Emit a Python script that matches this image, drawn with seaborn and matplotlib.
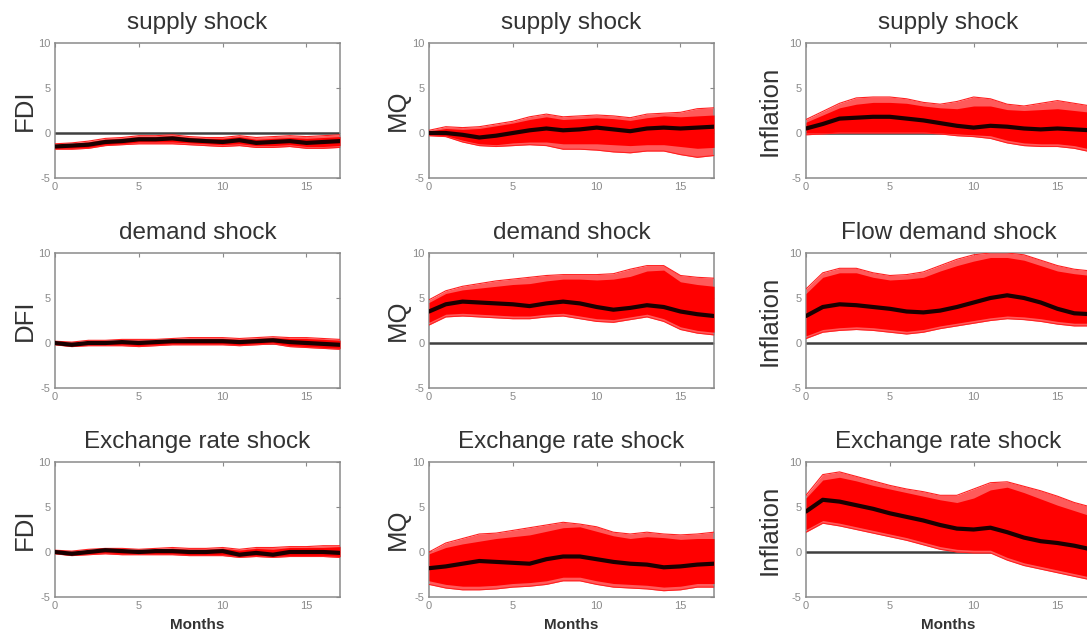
import matplotlib
matplotlib.use("Agg")
import matplotlib.pyplot as plt
import seaborn as sns

months = list(range(18))

# Row 1: supply shock
fdi_s_med = [-1.5,-1.4,-1.3,-1.0,-0.9,-0.7,-0.7,-0.6,-0.8,-0.9,-1.0,-0.8,-1.1,-1.0,-0.9,-1.1,-1.0,-0.9]
fdi_s_lo  = [-1.7,-1.7,-1.6,-1.3,-1.2,-1.0,-1.0,-1.0,-1.1,-1.2,-1.3,-1.2,-1.4,-1.4,-1.3,-1.5,-1.5,-1.4]
fdi_s_hi  = [-1.3,-1.2,-1.0,-0.7,-0.6,-0.4,-0.4,-0.3,-0.5,-0.6,-0.6,-0.4,-0.7,-0.6,-0.5,-0.6,-0.5,-0.4]
fdi_s_olo = [-1.8,-1.8,-1.7,-1.4,-1.3,-1.2,-1.2,-1.2,-1.3,-1.4,-1.5,-1.4,-1.6,-1.6,-1.5,-1.7,-1.7,-1.6]
fdi_s_ohi = [-1.2,-1.1,-0.9,-0.6,-0.5,-0.3,-0.3,-0.2,-0.4,-0.5,-0.5,-0.3,-0.5,-0.4,-0.3,-0.4,-0.3,-0.2]

mq_s_med = [0.0,0.0,-0.2,-0.5,-0.3,0.0,0.3,0.5,0.3,0.4,0.6,0.4,0.2,0.5,0.6,0.5,0.6,0.7]
mq_s_lo  = [-0.2,-0.3,-0.8,-1.2,-1.3,-1.1,-1.0,-1.0,-1.2,-1.2,-1.2,-1.3,-1.4,-1.3,-1.3,-1.5,-1.7,-1.6]
mq_s_hi  = [0.2,0.5,0.4,0.5,0.8,1.1,1.5,1.8,1.5,1.6,1.7,1.6,1.4,1.7,1.9,1.8,1.9,2.0]
mq_s_olo = [-0.3,-0.4,-1.0,-1.4,-1.5,-1.4,-1.3,-1.4,-1.8,-1.8,-1.9,-2.1,-2.2,-2.0,-2.0,-2.4,-2.7,-2.5]
mq_s_ohi = [0.3,0.7,0.6,0.7,1.0,1.3,1.8,2.1,1.8,1.9,2.0,1.9,1.7,2.1,2.2,2.3,2.7,2.8]

inf_s_med = [0.5,1.0,1.6,1.7,1.8,1.8,1.6,1.4,1.1,0.8,0.6,0.8,0.7,0.5,0.4,0.5,0.4,0.3]
inf_s_lo  = [0.0,0.0,0.1,0.1,0.1,0.1,0.1,0.1,0.0,-0.1,-0.2,-0.3,-0.8,-1.1,-1.2,-1.2,-1.4,-1.8]
inf_s_hi  = [1.2,2.0,2.8,3.2,3.4,3.4,3.3,3.0,2.8,2.7,3.0,3.0,2.6,2.5,2.6,2.7,2.5,2.3]
inf_s_olo = [-0.2,-0.1,0.0,0.0,0.0,0.0,0.0,0.0,-0.1,-0.3,-0.4,-0.6,-1.1,-1.4,-1.5,-1.5,-1.7,-2.1]
inf_s_ohi = [1.5,2.4,3.3,3.9,4.0,4.0,3.8,3.4,3.2,3.5,4.0,3.8,3.2,3.0,3.3,3.6,3.3,3.0]

# Row 2: demand shock
dfi_d_med = [0.0,-0.2,0.0,0.0,0.1,0.0,0.1,0.2,0.2,0.2,0.2,0.1,0.2,0.3,0.1,0.0,-0.1,-0.2]
dfi_d_lo  = [-0.1,-0.3,-0.2,-0.2,-0.2,-0.3,-0.2,-0.1,-0.1,-0.1,-0.1,-0.2,-0.1,0.0,-0.3,-0.4,-0.5,-0.6]
dfi_d_hi  = [0.1,0.0,0.2,0.2,0.3,0.3,0.3,0.4,0.4,0.5,0.5,0.4,0.5,0.6,0.5,0.5,0.4,0.3]
dfi_d_olo = [-0.2,-0.4,-0.3,-0.3,-0.3,-0.4,-0.3,-0.2,-0.2,-0.2,-0.2,-0.3,-0.2,-0.1,-0.4,-0.5,-0.6,-0.7]
dfi_d_ohi = [0.2,0.1,0.3,0.3,0.4,0.4,0.4,0.5,0.6,0.6,0.6,0.5,0.6,0.7,0.6,0.6,0.5,0.4]

mq_d_med = [3.5,4.3,4.6,4.5,4.4,4.3,4.1,4.4,4.6,4.4,4.0,3.7,3.9,4.2,4.0,3.5,3.2,3.0]
mq_d_lo  = [2.3,3.2,3.3,3.2,3.1,3.0,3.0,3.2,3.3,3.0,2.7,2.6,2.9,3.2,2.7,1.8,1.4,1.2]
mq_d_hi  = [4.5,5.5,5.9,6.1,6.3,6.5,6.6,6.9,7.1,7.1,7.0,7.1,7.4,8.0,8.1,6.8,6.5,6.3]
mq_d_olo = [2.0,2.9,3.0,2.9,2.8,2.7,2.7,2.9,3.0,2.7,2.4,2.3,2.6,2.9,2.4,1.5,1.1,0.9]
mq_d_ohi = [4.8,5.8,6.3,6.6,6.9,7.1,7.3,7.5,7.6,7.6,7.6,7.7,8.2,8.6,8.6,7.5,7.3,7.2]

inf_d_med = [3.0,4.0,4.3,4.2,4.0,3.8,3.5,3.4,3.6,4.0,4.5,5.0,5.3,5.0,4.5,3.8,3.3,3.2]
inf_d_lo  = [0.8,1.5,1.7,1.8,1.7,1.5,1.3,1.5,1.9,2.2,2.5,2.8,3.0,2.9,2.7,2.4,2.2,2.2]
inf_d_hi  = [5.5,7.3,7.8,7.8,7.3,7.0,7.1,7.3,8.0,8.6,9.1,9.5,9.5,9.2,8.6,8.0,7.7,7.5]
inf_d_olo = [0.5,1.2,1.4,1.5,1.4,1.2,1.0,1.2,1.6,1.9,2.2,2.5,2.7,2.6,2.4,2.1,1.9,1.9]
inf_d_ohi = [6.0,7.8,8.3,8.3,7.8,7.5,7.6,7.9,8.6,9.3,9.8,10.0,10.0,9.8,9.2,8.6,8.2,8.0]

# Row 3: exchange rate shock
fdi_e_med = [0.0,-0.2,0.0,0.2,0.1,0.0,0.1,0.1,0.0,0.0,0.1,-0.3,-0.1,-0.3,0.0,0.0,0.0,-0.1]
fdi_e_lo  = [-0.1,-0.3,-0.2,-0.1,-0.2,-0.2,-0.2,-0.2,-0.3,-0.3,-0.3,-0.5,-0.4,-0.5,-0.4,-0.4,-0.4,-0.5]
fdi_e_hi  = [0.1,0.0,0.2,0.3,0.3,0.2,0.3,0.4,0.3,0.3,0.4,0.2,0.4,0.3,0.5,0.5,0.5,0.6]
fdi_e_olo = [-0.2,-0.4,-0.3,-0.2,-0.3,-0.3,-0.3,-0.3,-0.4,-0.4,-0.4,-0.6,-0.5,-0.6,-0.5,-0.5,-0.5,-0.6]
fdi_e_ohi = [0.2,0.1,0.3,0.4,0.4,0.3,0.4,0.5,0.4,0.4,0.5,0.3,0.5,0.5,0.6,0.6,0.7,0.7]

mq_e_med = [-1.8,-1.6,-1.3,-1.0,-1.1,-1.2,-1.3,-0.8,-0.5,-0.5,-0.8,-1.1,-1.3,-1.4,-1.7,-1.6,-1.4,-1.3]
mq_e_lo  = [-3.2,-3.6,-3.8,-3.8,-3.7,-3.5,-3.4,-3.2,-2.8,-2.8,-3.2,-3.5,-3.6,-3.7,-3.9,-3.8,-3.5,-3.5]
mq_e_hi  = [-0.2,0.5,0.9,1.2,1.5,1.7,1.9,2.3,2.7,2.8,2.3,1.8,1.5,1.7,1.6,1.4,1.5,1.5]
mq_e_olo = [-3.6,-4.0,-4.2,-4.2,-4.1,-3.9,-3.8,-3.6,-3.2,-3.2,-3.6,-3.9,-4.0,-4.1,-4.3,-4.2,-3.9,-3.9]
mq_e_ohi = [0.0,1.0,1.5,2.0,2.1,2.4,2.7,3.0,3.3,3.1,2.8,2.2,2.0,2.2,2.0,1.9,2.0,2.2]

inf_e_med = [4.5,5.8,5.6,5.2,4.8,4.3,3.9,3.5,3.0,2.6,2.5,2.7,2.2,1.6,1.2,1.0,0.7,0.3]
inf_e_lo  = [2.5,3.5,3.2,2.8,2.4,2.0,1.6,1.1,0.6,0.3,0.2,0.2,-0.6,-1.2,-1.6,-2.0,-2.4,-2.8]
inf_e_hi  = [6.0,8.0,8.3,7.9,7.4,7.0,6.6,6.2,5.8,5.5,6.0,6.9,7.2,6.6,5.9,5.2,4.6,4.0]
inf_e_olo = [2.2,3.2,2.9,2.5,2.1,1.7,1.3,0.8,0.3,0.0,-0.1,-0.1,-0.9,-1.5,-1.9,-2.3,-2.7,-3.1]
inf_e_ohi = [6.3,8.6,8.9,8.4,7.9,7.4,7.0,6.7,6.3,6.3,7.0,7.7,7.8,7.3,6.8,6.2,5.5,5.0]

titles = [["supply shock", "supply shock", "supply shock"],
          ["demand shock", "demand shock", "Flow demand shock"],
          ["Exchange rate shock", "Exchange rate shock", "Exchange rate shock"]]
ylabels = [["FDI", "MQ", "Inflation"],
           ["DFI", "MQ", "Inflation"],
           ["FDI", "MQ", "Inflation"]]
panels = [
    [(fdi_s_med, fdi_s_lo, fdi_s_hi, fdi_s_olo, fdi_s_ohi),
     (mq_s_med, mq_s_lo, mq_s_hi, mq_s_olo, mq_s_ohi),
     (inf_s_med, inf_s_lo, inf_s_hi, inf_s_olo, inf_s_ohi)],
    [(dfi_d_med, dfi_d_lo, dfi_d_hi, dfi_d_olo, dfi_d_ohi),
     (mq_d_med, mq_d_lo, mq_d_hi, mq_d_olo, mq_d_ohi),
     (inf_d_med, inf_d_lo, inf_d_hi, inf_d_olo, inf_d_ohi)],
    [(fdi_e_med, fdi_e_lo, fdi_e_hi, fdi_e_olo, fdi_e_ohi),
     (mq_e_med, mq_e_lo, mq_e_hi, mq_e_olo, mq_e_ohi),
     (inf_e_med, inf_e_lo, inf_e_hi, inf_e_olo, inf_e_ohi)],
]
xticks = [0, 5, 10, 15]
yticks = [-5, 0, 5, 10]

sns.set_style("white")
plt.rcParams['font.family'] = ['Liberation Sans', 'DejaVu Sans']
plt.rcParams['axes.unicode_minus'] = False

W, H = 1087, 640
fig = plt.figure(figsize=(W / 100, H / 100), dpi=100)
col_left = [55, 429, 806]
row_top = [43, 253, 462]
aw, ah = 285, 135
ylab_off = [30, 31, 36]

for r in range(3):
    for c in range(3):
        ax = fig.add_axes([col_left[c] / W, 1 - (row_top[r] + ah) / H, aw / W, ah / H])
        med, lo, hi, olo, ohi = panels[r][c]
        ax.axhline(0, color='#404040', lw=1.8, zorder=1)
        ax.fill_between(months, olo, ohi, color='#ff5a5a', lw=0, zorder=2)
        ax.fill_between(months, lo, hi, color='#ff0000', lw=0, zorder=3)
        sns.lineplot(x=months, y=olo, ax=ax, color='#ff2020', lw=0.8, zorder=3)
        sns.lineplot(x=months, y=ohi, ax=ax, color='#ff2020', lw=0.8, zorder=3)
        sns.lineplot(x=months, y=med, ax=ax, color='#1a0000', lw=3.0, zorder=4)
        ax.set_xlim(0, 17)
        ax.set_ylim(-5, 10)
        ax.set_xticks(xticks)
        ax.set_yticks(yticks)
        ax.tick_params(direction='in', top=True, right=True, length=3, width=0.8,
                       colors='#8a8a8a', labelsize=8, pad=3)
        for s in ax.spines.values():
            s.set_color('#8a8a8a')
            s.set_linewidth(1.1)
        ax.set_title(titles[r][c], fontsize=17.5, color='#333333', pad=10)
        ax.set_ylabel(ylabels[r][c], fontsize=18.5, color='#333333', va='center')
        ax.yaxis.set_label_coords(-ylab_off[c] / aw, 0.5)
        if r == 2:
            ax.set_xlabel("Months", fontsize=11, color='#333333', fontweight='bold', labelpad=5)
        else:
            ax.set_xlabel("")

fig.savefig("out.png", dpi=100)
